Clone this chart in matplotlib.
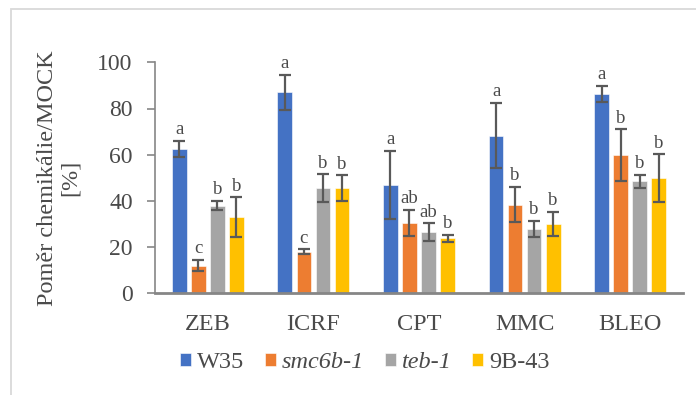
import matplotlib
matplotlib.use("Agg")
import matplotlib.pyplot as plt
from matplotlib.patches import Rectangle
import numpy as np

plt.rcParams['font.family'] = ['Liberation Serif', 'DejaVu Serif']

categories = ["ZEB", "ICRF", "CPT", "MMC", "BLEO"]
series_names = ["W35", "smc6b-1", "teb-1", "9B-43"]
series_italic = [False, True, True, False]
colors = ["#4472C4", "#ED7D31", "#A5A5A5", "#FFC000"]

w35 = [62.5, 87.0, 47.0, 68.3, 86.4]
smc6b = [12.0, 18.0, 30.3, 38.4, 59.8]
teb = [38.0, 45.5, 26.4, 27.8, 48.4]
b943 = [33.0, 45.5, 23.8, 29.9, 49.9]

w35_err = [3.5, 7.5, 14.8, 14.2, 3.4]
smc6b_err = [2.5, 1.0, 5.7, 7.7, 11.2]
teb_err = [2.0, 6.0, 3.9, 3.4, 2.7]
b943_err = [8.5, 5.5, 1.4, 5.3, 10.2]

w35_sig = ["a", "a", "a", "a", "a"]
smc6b_sig = ["c", "c", "ab", "b", "b"]
teb_sig = ["b", "b", "ab", "b", "b"]
b943_sig = ["b", "b", "b", "b", "b"]

values = [w35, smc6b, teb, b943]
errors = [w35_err, smc6b_err, teb_err, b943_err]
letters = [w35_sig, smc6b_sig, teb_sig, b943_sig]

fig = plt.figure(figsize=(6.96, 3.95), dpi=100)
ax = fig.add_axes([155 / 696, 1 - 293.3 / 395, 528 / 696, 231 / 395])

x = np.arange(len(categories))
pitch = 0.18
width = 0.14
axis_grey = "#868686"
err_grey = "#595959"
text_grey = "#4a4a4a"

handles = []
for i, (vals, errs, labs) in enumerate(zip(values, errors, letters)):
    pos = x + (i - 1.5) * pitch
    b = ax.bar(pos, vals, width=width, color=colors[i], edgecolor="white",
               linewidth=0.4, zorder=2)
    handles.append(b)
    ax.errorbar(pos, vals, yerr=errs, fmt="none", ecolor=err_grey,
                elinewidth=1.6, capsize=4.5, capthick=1.6, zorder=3)
    for p, v, e, t in zip(pos, vals, errs, labs):
        ax.text(p, v + e + 1.2, t, ha="center", va="bottom", fontsize=13.5,
                color=text_grey)

ax.set_xlim(-0.5, len(categories) - 0.5)
ax.set_ylim(0, 100)
ax.set_yticks(np.arange(0, 101, 20))
ax.set_xticks(x)
ax.set_xticklabels(categories, fontsize=17.5, color=text_grey)
ax.tick_params(axis="y", labelsize=17, labelcolor=text_grey, color=axis_grey,
               length=6, width=1.2, direction="out", pad=10)
ax.tick_params(axis="x", length=0, pad=15)

for side in ("top", "right"):
    ax.spines[side].set_visible(False)
ax.spines["left"].set_color(axis_grey)
ax.spines["left"].set_linewidth(1.2)
ax.spines["bottom"].set_color(axis_grey)
ax.spines["bottom"].set_linewidth(2.0)

ax.set_ylabel("Poměr chemikálie/MOCK\n[%]", fontsize=17.5, color=text_grey,
              labelpad=12, linespacing=1.1)

leg = fig.legend(handles, series_names, loc="center", ncol=4,
                 bbox_to_anchor=(0.524, 1 - 363 / 395), frameon=False,
                 fontsize=17.5, handlelength=0.45, handleheight=0.45,
                 handletextpad=0.25, columnspacing=0.85)
for txt, it in zip(leg.get_texts(), series_italic):
    txt.set_color(text_grey)
    if it:
        txt.set_style("italic")

# light outer frame of the chart area
fig.patches.append(Rectangle((11 / 696, -0.1), 1.2, (1 - 9 / 395) + 0.1,
                             transform=fig.transFigure, fill=False,
                             edgecolor="#D9D9D9", linewidth=1.3))

fig.savefig("out.png", dpi=100)
